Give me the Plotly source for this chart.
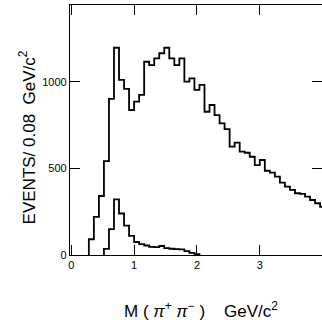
import numpy as np
import plotly.graph_objects as go

# Bin width of both distributions (GeV/c^2)
BIN_WIDTH = 0.08

# All pi+ pi- combinations: lower bin edges and counts per bin
all_lo = [0.28, 0.36, 0.44, 0.52, 0.60, 0.68, 0.76, 0.84, 0.92, 1.00,
          1.08, 1.16, 1.24, 1.32, 1.40, 1.48, 1.56, 1.64, 1.72, 1.80,
          1.88, 1.96, 2.04, 2.12, 2.20, 2.28, 2.36, 2.44, 2.52, 2.60,
          2.68, 2.76, 2.84, 2.92, 3.00, 3.08, 3.16, 3.24, 3.32, 3.40,
          3.48, 3.56, 3.64, 3.72, 3.80, 3.88, 3.96]
all_counts = [91, 220, 341, 543, 902, 1198, 1012, 960, 838, 886,
              925, 1117, 1098, 1137, 1166, 1198, 1137, 1098, 1137, 1002,
              1021, 954, 983, 828, 867, 809, 761, 727, 626, 649,
              597, 591, 568, 520, 549, 487, 476, 453, 418, 395,
              376, 357, 353, 337, 318, 299, 279]

# Selected subsample: lower bin edges and counts per bin
sel_lo = [0.52, 0.60, 0.68, 0.76, 0.84, 0.92, 1.00, 1.08, 1.16, 1.24,
          1.32, 1.40, 1.48, 1.56, 1.64, 1.72, 1.80, 1.88, 1.96]
sel_counts = [35, 150, 322, 240, 170, 110, 75, 63, 55, 47,
              45, 52, 40, 36, 34, 32, 22, 12, 5]

# Axis ticks
x_ticks = [0, 1, 2, 3, 4]
y_ticks = [0, 500, 1000]


def step_outline(lo, counts):
    """Histogram outline starting and ending on the baseline."""
    lo = np.asarray(lo, dtype=float)
    counts = np.asarray(counts, dtype=float)
    xs = np.concatenate([[lo[0]], lo, [lo[-1] + BIN_WIDTH]])
    ys = np.concatenate([[0.0], counts, [0.0]])
    return xs, ys


fig = go.Figure()
for lo, counts in ((all_lo, all_counts), (sel_lo, sel_counts)):
    xs, ys = step_outline(lo, counts)
    fig.add_trace(go.Scatter(
        x=xs, y=ys, mode="lines", line_shape="hv",
        line=dict(color="black", width=1.8),
        showlegend=False, hoverinfo="skip",
    ))

axis_common = dict(
    showline=True, linecolor="black", linewidth=1.2, mirror="ticks",
    ticks="inside", ticklen=10, tickwidth=1, tickcolor="black",
    showgrid=False, zeroline=False,
    tickfont=dict(family="Liberation Sans", size=11, color="black"),
)

fig.update_xaxes(range=[-0.02, 3.99], tickvals=x_ticks,
                 ticktext=[str(v) for v in x_ticks], **axis_common)
fig.update_yaxes(range=[0, 1445], tickvals=y_ticks,
                 ticktext=[str(v) for v in y_ticks], **axis_common)

title_font = dict(family="Liberation Sans", size=17, color="black")
fig.add_annotation(
    text="EVENTS/ 0.08  GeV/c<sup>2</sup>", textangle=-90,
    xref="paper", yref="paper", x=-0.171, y=0.47,
    xanchor="center", yanchor="middle",
    showarrow=False, font=title_font,
)
fig.add_annotation(
    text="M ( <i>π</i><sup>+</sup> <i>π</i><sup>−</sup> )    GeV/c<sup>2</sup>",
    xref="paper", yref="paper", x=0.52, y=-0.22,
    xanchor="center", yanchor="middle",
    showarrow=False, font=title_font,
)

fig.update_layout(
    width=322, height=320,
    margin=dict(l=70, r=0, t=5, b=65),
    paper_bgcolor="white", plot_bgcolor="white",
)

fig.write_html("out.html")
